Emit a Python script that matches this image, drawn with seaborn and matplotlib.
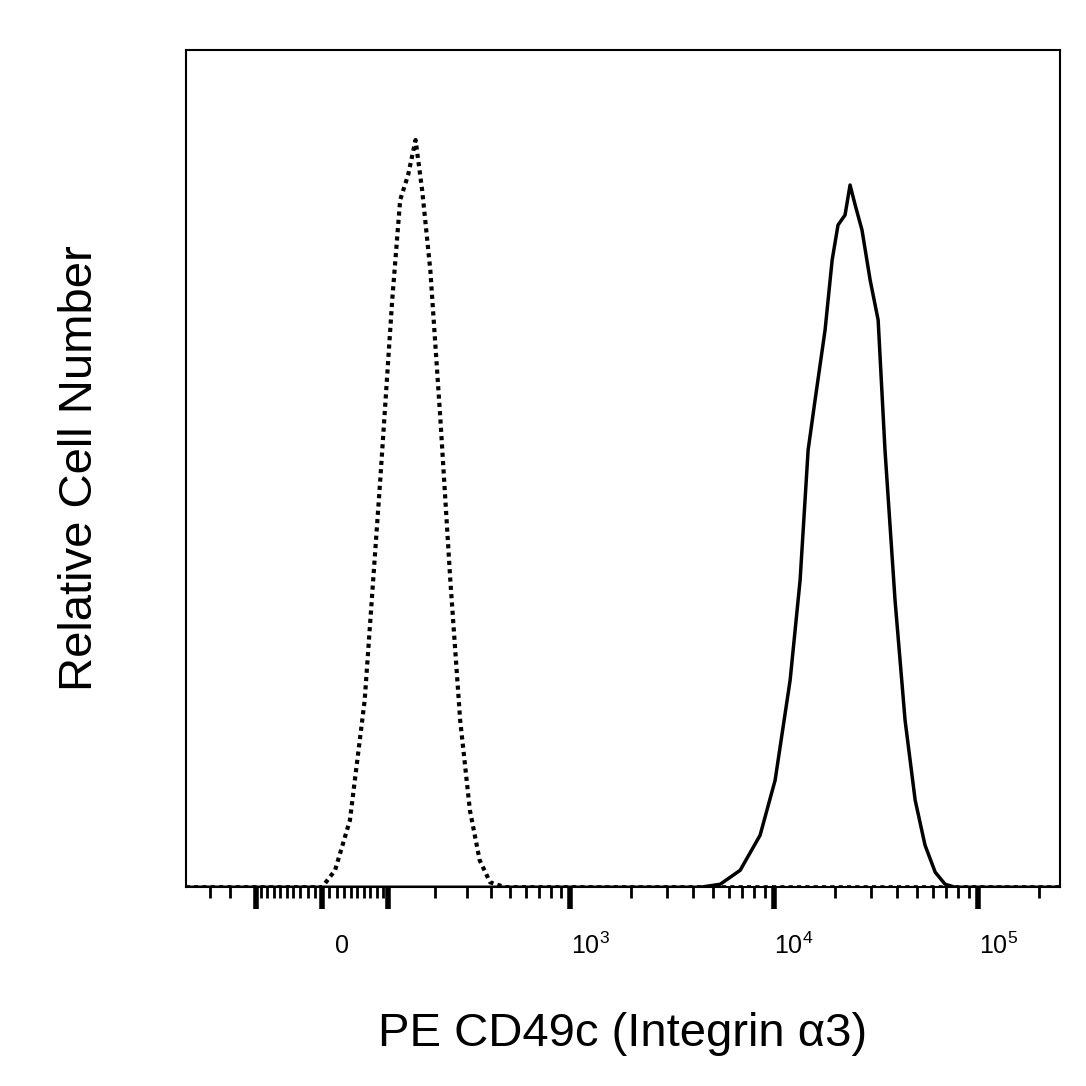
import numpy as np
import pandas as pd
import matplotlib
matplotlib.use("Agg")
import matplotlib.pyplot as plt
import matplotlib.transforms as mtransforms
import seaborn as sns

# ---- data ----
iso_x = [0, 18, 39, 61, 86, 107, 122, 138, 154, 169, 189, 216, 245, 277, 312, 351, 397, 473]
iso_y = [0, 17, 67, 187, 407, 587, 687, 712, 747, 697, 617, 467, 307, 167, 77, 27, 5, 0]

stain_x = [4350, 5450, 6830, 8550, 10130, 12000, 13430, 14700, 15900, 17800, 19280, 20600,
           22300, 23600, 25000, 27000, 29600, 32400, 35000, 39200, 43900, 49200, 55000,
           61700, 69000, 77200]
stain_y = [0, 3, 17, 52, 107, 207, 307, 437, 487, 557, 627, 662, 672, 702, 682, 657, 607,
           567, 437, 287, 167, 87, 42, 15, 3, 0]

xmin, xmax = -271, 252000
tick_vals = [-100, 0, 100, 1000, 10000, 100000]
label_vals = [0, 1000, 10000, 100000]
label_text = ["0", r"$10^3$", r"$10^4$", r"$10^5$"]

# biexponential-like display scale
C = 122.0
fwd = lambda x: np.arcsinh(np.asarray(x, float) / C)
inv = lambda u: C * np.sinh(np.asarray(u, float))

sns.set_style("white")
plt.rcParams["font.family"] = "Liberation Sans"
plt.rcParams["mathtext.fontset"] = "custom"
plt.rcParams["mathtext.rm"] = "Liberation Sans"
plt.rcParams["mathtext.it"] = "Liberation Sans"
plt.rcParams["mathtext.default"] = "regular"

fig = plt.figure(figsize=(10.86, 10.86), dpi=100)
ax = fig.add_axes([0.171, 0.183, 0.805, 0.771])
ax.set_xscale("function", functions=(fwd, inv))

iso = pd.DataFrame({"x": [xmin] + iso_x + [xmax], "y": [0] + iso_y + [0]})
stain = pd.DataFrame({"x": [xmin] + stain_x + [xmax], "y": [0] + stain_y + [0]})
sns.lineplot(data=stain, x="x", y="y", ax=ax, color="black", lw=2.5, sort=False)
sns.lineplot(data=iso, x="x", y="y", ax=ax, color="black", lw=3, ls=(0, (1, 1)), sort=False)

ax.set_xlim(xmin, xmax)
ax.set_ylim(0, 837)
ax.set_yticks([])

minor = [-200, -150]
minor += list(range(-90, 100, 10))
minor += [200, 300, 400, 500, 600, 700, 800, 900]
minor += list(range(2000, 10000, 1000)) + list(range(20000, 100000, 10000)) + [200000]
ax.set_xticks(tick_vals)
ax.set_xticks(minor, minor=True)
ax.set_xticklabels([""] * len(tick_vals))
ax.tick_params(axis="x", which="major", bottom=True, direction="out", length=16, width=4, color="black")
ax.tick_params(axis="x", which="minor", bottom=True, direction="out", length=8, width=2, color="black")

offset = mtransforms.ScaledTranslation(0.2, 0, fig.dpi_scale_trans)
for v, t in zip(label_vals, label_text):
    ax.text(v, -0.07, t, transform=ax.get_xaxis_transform() + offset,
            ha="center", va="center", fontsize=18, color="black")

for s in ax.spines.values():
    s.set_linewidth(1.5)
    s.set_color("black")

ax.set_xlabel("PE CD49c (Integrin α3)", fontsize=34, labelpad=70, color="black")
ax.set_ylabel("Relative Cell Number", fontsize=34, labelpad=60, color="black")

fig.savefig("out.png", dpi=100)
